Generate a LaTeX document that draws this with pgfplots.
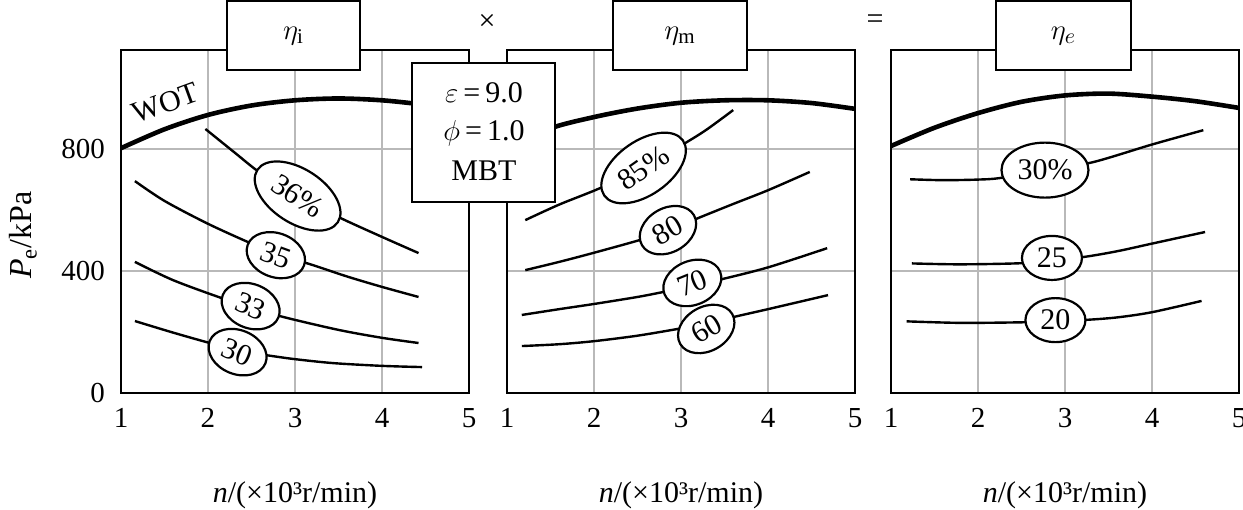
\documentclass[border=0pt]{standalone}
\usepackage{fontspec}
\setmainfont{Liberation Serif}
\usepackage{pgfplots}
\pgfplotsset{compat=1.18}
\usetikzlibrary{shapes.geometric}
\pgfplotsset{
 panel/.style={
  scale only axis, width=174pt, height=171.5pt,
  xmin=1,xmax=5,ymin=0,ymax=1125,
  xtick={1,2,3,4,5}, ytick={0,400,800},
  grid=major, major grid style={gray!55, line width=0.7pt},
  major tick length=0pt,
  axis line style={line width=1.3pt},
  tick label style={font=\fontsize{14.5}{17}\selectfont},
  /pgf/number format/assume math mode=true,
  xticklabel style={yshift=-4pt},
  yticklabel style={xshift=-4.5pt},
  xlabel={\textit{n}/(×10³r/min)},
  xlabel style={at={(axis description cs:0.5,0)}, anchor=center, yshift=-51pt, font=\fontsize{15}{18}\selectfont},
 },
}
\tikzset{
 cv/.style={black, line width=1.2pt, smooth, mark=none},
 wot/.style={black, line width=2.3pt, smooth, mark=none},
 lab/.style={ellipse, draw, fill=white, line width=1.1pt, inner sep=0pt, font=\fontsize{15}{17}\selectfont},
 sm/.style={minimum width=30pt, minimum height=22pt},
 bg/.style={minimum width=48pt, minimum height=27pt},
}
\begin{document}
\begin{tikzpicture}
\useasboundingbox (0,0) rectangle (621.5pt,254.5pt);
% Panel 1
\begin{axis}[panel, at={(60.5pt,58pt)}, anchor=south west]
\addplot[wot] coordinates {(1,803)(1.5,865)(2,912)(2.5,943)(3,960)(3.5,966)(4,960)(4.5,945)(5,925)};
\addplot[cv] coordinates {(1.97,866)(2.3,790)(2.6,722)(3.0,650)(3.5,577)(4.0,512)(4.42,459)};
\addplot[cv] coordinates {(1.16,695)(1.5,630)(2.0,555)(2.5,490)(2.8,455)(3.2,420)(3.6,382)(4.0,348)(4.42,315)};
\addplot[cv] coordinates {(1.16,430)(1.6,370)(2.16,311)(2.5,280)(2.87,249)(3.5,207)(4.0,181)(4.42,164)};
\addplot[cv] coordinates {(1.16,236)(1.6,198)(2.02,164)(2.4,136)(2.72,122)(3.0,111)(3.44,98)(4.0,89)(4.46,85)};
\node[rotate=20, font=\fontsize{15}{17}\selectfont] at (axis cs:1.51,951) {WOT};
\node[lab,bg,rotate=-33] at (axis cs:3.03,646) {36\%};
\node[lab,sm,rotate=-20] at (axis cs:2.78,452) {35};
\node[lab,sm,rotate=-22] at (axis cs:2.49,285) {33};
\node[lab,sm,rotate=-22] at (axis cs:2.34,134) {30};
\end{axis}
% Panel 2
\begin{axis}[panel, at={(253.5pt,58pt)}, anchor=south west, yticklabels={}]
\addplot[wot] coordinates {(1,800)(1.5,868)(2,905)(2.5,933)(3,952)(3.5,960)(4,960)(4.5,951)(5,932)};
\addplot[cv] coordinates {(1.21,567)(1.6,618)(2.07,672)(2.57,740)(3.05,820)(3.3,865)(3.6,928)};
\addplot[cv] coordinates {(1.21,403)(1.6,430)(2.0,460)(2.53,502)(2.85,532)(3.2,574)(3.6,620)(4.0,665)(4.48,725)};
\addplot[cv] coordinates {(1.17,256)(1.6,275)(2.0,292)(2.5,315)(2.79,331)(3.13,352)(3.45,372)(4.0,412)(4.68,475)};
\addplot[cv] coordinates {(1.17,154)(1.6,160)(2.0,170)(2.5,188)(3.0,212)(3.3,228)(3.6,249)(4.0,275)(4.69,321)};
\node[lab,bg,rotate=35] at (axis cs:2.57,738) {85\%};
\node[lab,sm,rotate=30] at (axis cs:2.85,534) {80};
\node[lab,sm,rotate=22] at (axis cs:3.13,361) {70};
\node[lab,sm,rotate=30] at (axis cs:3.29,210) {60};
\end{axis}
% Panel 3
\begin{axis}[panel, at={(445.5pt,58pt)}, anchor=south west, yticklabels={}]
\addplot[wot] coordinates {(1,810)(1.5,870)(2,918)(2.5,955)(3,976)(3.5,982)(4,972)(4.5,957)(5,935)};
\addplot[cv] coordinates {(1.22,701)(1.6,698)(2.0,700)(2.25,705)(2.77,730)(3.32,757)(4.0,815)(4.59,862)};
\addplot[cv] coordinates {(1.24,425)(1.8,422)(2.52,426)(2.84,437)(3.21,446)(3.6,465)(4.0,490)(4.61,528)};
\addplot[cv] coordinates {(1.18,235)(1.8,230)(2.53,232)(2.9,236)(3.25,240)(3.6,248)(4.0,265)(4.57,302)};
\node[lab,minimum width=43.5pt,minimum height=27.5pt] at (axis cs:2.77,731) {30\%};
\node[lab,sm] at (axis cs:2.85,443) {25};
\node[lab,sm] at (axis cs:2.89,239) {20};
\end{axis}
% annotations
\begin{scope}[x=0.5pt,y=-0.5pt,yshift=254.5pt]
\draw[line width=1pt, fill=white] (227,1) rectangle (360,70);
\draw[line width=1pt, fill=white] (613,1) rectangle (747,70);
\draw[line width=1pt, fill=white] (996,1) rectangle (1131,70);
\node[font=\fontsize{15}{18}\selectfont] at (293.5,36) {$\eta_{\mathrm{i}}$};
\node[font=\fontsize{15}{18}\selectfont] at (680,36) {$\eta_{\mathrm{m}}$};
\node[font=\fontsize{15}{18}\selectfont] at (1063.5,36) {$\eta_{e}$};
\node[font=\fontsize{15}{18}\selectfont] at (487,22) {×};
\node[font=\fontsize{15}{18}\selectfont] at (875,22) {=};
\draw[line width=1pt, fill=white] (412,63) rectangle (555,202);
\node[font=\fontsize{15}{18}\selectfont] at (484,93) {$\varepsilon$\,=\,9.0};
\node[font=\fontsize{15}{18}\selectfont] at (484,133) {$\phi$\,=\,1.0};
\node[font=\fontsize{15}{18}\selectfont] at (484,171) {MBT};
\node[rotate=90, font=\fontsize{16}{18}\selectfont] at (23,235) {\textit{P}\textsubscript{e}/kPa};
\end{scope}
\end{tikzpicture}
\end{document}
